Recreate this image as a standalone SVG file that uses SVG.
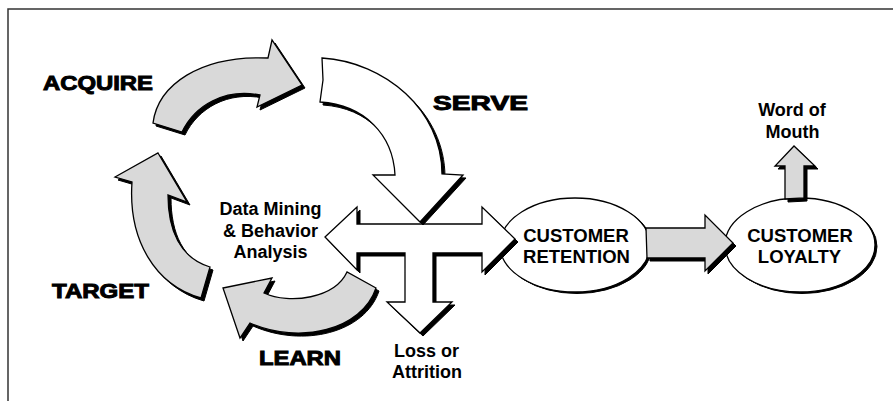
<svg xmlns="http://www.w3.org/2000/svg" xmlns:xlink="http://www.w3.org/1999/xlink" width="893" height="401" viewBox="0 0 893 401">
<style>
  .frame{fill:none;stroke:#333;stroke-width:1.5}
  .sh{fill:#000;stroke:#000;stroke-width:1}
  .gray{fill:#d9d9d9;stroke:#000;stroke-width:1.3;stroke-linejoin:miter}
  .white{fill:#ffffff;stroke:#000;stroke-width:1.3;stroke-linejoin:miter}
  .big{font-family:"Liberation Sans",Arial,sans-serif;font-weight:bold;font-size:21px;fill:#000;stroke:#000;stroke-width:1}
  .lbl{font-family:"Liberation Sans",Arial,sans-serif;font-weight:bold;font-size:18px;fill:#000;text-anchor:middle}
  .ell{font-family:"Liberation Sans",Arial,sans-serif;font-weight:bold;font-size:18.5px;fill:#000;text-anchor:middle}
</style>
<defs>
  <path id="pAcquire" d="M153,123 C158,85 200,55 268,58 L272,40 L302,85 L257,107 L260,95 C225,88 195,105 182,132 Z"/>
  <path id="pServe" d="M322,58 C385,62 442,110 442,174 L463,175 L420,222 L373,175 L395,175 C393,135 365,105 320,102 L323,80 Z"/>
  <path id="pLearn" d="M223,288 L272,278 L264,293 C290,305 335,298 347,272 L376,288 C362,330 300,345 250,323 L240,338 Z"/>
  <path id="pTarget" d="M158,153 L187,202 L168,195 C168,230 180,258 210,267 L201,298 C155,285 128,240 132,182 L115,177 Z"/>
  <path id="pCross" d="M325,237 L357,207 L357,224 L482,224 L482,207 L515,239 L482,272 L482,253 L433,253 L433,302 L452,302 L420,333 L387,302 L405,302 L405,253 L357,253 L357,270 Z"/>
  <path id="pMid" d="M646,228 L705,228 L705,215 L733,243 L705,271 L705,258 L647,258 Z"/>
  <path id="pWom" d="M785,199 L785,166 L775,166 L794,146 L815,166 L804,166 L804,198 Z"/>
</defs>

<path class="frame" d="M8,401 L8,9 L893,9"/>

<g id="node-retention">
  <ellipse class="sh" cx="577" cy="246.5" rx="75" ry="47"/>
  <ellipse class="white" cx="575" cy="245" rx="75" ry="47"/>
  <text class="ell" x="576" y="242">CUSTOMER</text>
  <text class="ell" x="576.5" y="263">RETENTION</text>
</g>

<g id="node-loyalty">
  <ellipse class="sh" cx="802" cy="246.5" rx="75" ry="47"/>
  <ellipse class="white" cx="800" cy="245" rx="75" ry="47"/>
  <text class="ell" x="800" y="242">CUSTOMER</text>
  <text class="ell" x="799.5" y="263">LOYALTY</text>
</g>

<g id="connectors">
  <g id="arrow-acquire">
    <use xlink:href="#pAcquire" class="sh" transform="translate(3,3)"/>
    <use xlink:href="#pAcquire" class="gray"/>
  </g>
  <g id="arrow-target">
    <use xlink:href="#pTarget" class="sh" transform="translate(3,3)"/>
    <use xlink:href="#pTarget" class="gray"/>
  </g>
  <g id="arrow-learn">
    <use xlink:href="#pLearn" class="sh" transform="translate(3,3)"/>
    <use xlink:href="#pLearn" class="gray"/>
  </g>
  <g id="arrow-cross">
    <use xlink:href="#pCross" class="sh" transform="translate(3,3)"/>
    <use xlink:href="#pCross" class="white"/>
  </g>
  <g id="arrow-serve">
    <use xlink:href="#pServe" class="sh" transform="translate(3,3)"/>
    <use xlink:href="#pServe" class="white"/>
  </g>
  <g id="arrow-retention-loyalty">
    <use xlink:href="#pMid" class="sh" transform="translate(3,3)"/>
    <use xlink:href="#pMid" class="gray"/>
  </g>
  <g id="arrow-word-of-mouth">
    <use xlink:href="#pWom" class="sh" transform="translate(3,3)"/>
    <use xlink:href="#pWom" class="gray"/>
  </g>
</g>

<g id="node-acquire"><text class="big" x="43" y="90" textLength="110" lengthAdjust="spacingAndGlyphs">ACQUIRE</text></g>
<g id="node-serve"><text class="big" x="433" y="110" textLength="95" lengthAdjust="spacingAndGlyphs">SERVE</text></g>
<g id="node-target"><text class="big" x="52" y="298" textLength="97" lengthAdjust="spacingAndGlyphs">TARGET</text></g>
<g id="node-learn"><text class="big" x="259" y="365" textLength="82" lengthAdjust="spacingAndGlyphs">LEARN</text></g>

<g id="node-data-mining">
  <text class="lbl" x="270.5" y="215">Data Mining</text>
  <text class="lbl" x="270.5" y="237">&amp; Behavior</text>
  <text class="lbl" x="270.5" y="258">Analysis</text>
</g>

<g id="node-loss">
  <text class="lbl" x="426.5" y="357">Loss or</text>
  <text class="lbl" x="427" y="378">Attrition</text>
</g>

<g id="node-word-of-mouth">
  <text class="lbl" x="792" y="116">Word of</text>
  <text class="lbl" x="792.5" y="138">Mouth</text>
</g>
</svg>
